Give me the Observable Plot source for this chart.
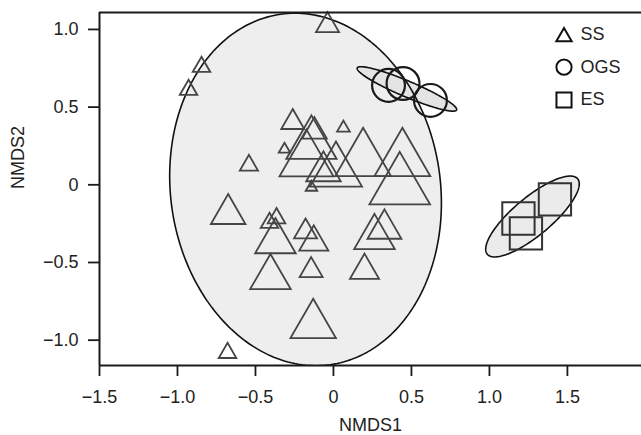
<!DOCTYPE html>
<html><head><meta charset="utf-8">
<script src="https://cdn.jsdelivr.net/npm/d3@7"></script>
<script src="https://cdn.jsdelivr.net/npm/@observablehq/plot@0.6"></script>
<style>
html,body{margin:0;padding:0;background:#fff;}
#chart{width:641px;height:435px;}
</style></head><body><div id="chart"></div>
<script>
// Groups and their legend symbols
const groups = ["SS", "OGS", "ES"];
const groupSymbols = ["triangle", "circle", "square"];

// SS sites (NMDS1, NMDS2, relative symbol size)
const ssX = [-0.038, -0.846, -0.929, -0.679, -0.542, -0.314, -0.261, -0.141, -0.122, -0.173, 0.064, 0.016, -0.064, -0.141, 0.190, 0.442, 0.425, -0.675, -0.365, -0.410, -0.372, -0.179, -0.126, -0.143, -0.404, -0.130, 0.263, 0.327, 0.199];
const ssY = [1.026, 0.759, 0.611, -1.082, 0.125, 0.228, 0.402, 0.260, 0.343, 0.155, 0.366, 0.085, 0.087, -0.017, 0.160, 0.160, -0.013, -0.188, -0.215, -0.245, -0.365, -0.302, -0.369, -0.551, -0.596, -0.902, -0.338, -0.284, -0.551];
const ssSize = [0.38, 0.29, 0.29, 0.29, 0.30, 0.19, 0.38, 0.83, 0.41, 0.89, 0.21, 0.86, 0.57, 0.19, 0.92, 0.92, 1.00, 0.57, 0.29, 0.29, 0.67, 0.38, 0.48, 0.38, 0.67, 0.75, 0.67, 0.56, 0.48];

// OGS sites
const ogsX = [0.353, 0.446, 0.622];
const ogsY = [0.640, 0.652, 0.543];
const ogsSize = [0.73, 0.73, 0.73];

// ES sites
const esX = [1.420, 1.186, 1.234];
const esY = [-0.094, -0.217, -0.313];
const esSize = [0.81, 0.81, 0.81];

// Group ellipses: centre, semi-axes, rotation (degrees)
const ellGroup = ["SS", "OGS", "ES"];
const ellCx = [-0.179, 0.471, 1.276];
const ellCy = [-0.030, 0.617, -0.204];
const ellA = [1.139, 0.346, 0.378];
const ellB = [0.865, 0.051, 0.122];
const ellAngle = [98, -23, 40];
const ellFill = ["#eeeeee", "#e4e4e4", "#ebebeb"];

// Axes
const xTicks = [-1.5, -1, -0.5, 0, 0.5, 1, 1.5];
const xTickLabels = ["\u22121.5", "\u22121.0", "\u22120.5", "0", "0.5", "1.0", "1.5"];
const yTicks = [-1, -0.5, 0, 0.5, 1];
const yTickLabels = ["\u22121.0", "\u22120.5", "0", "0.5", "1.0"];
const xDomain = [-1.5, 1.975];
const yDomain = [-1.163, 1.109];
const xLabel = "NMDS1";
const yLabel = "NMDS2";

const toRows = (xs, ys, ss) => xs.map((x, i) => ({x, y: ys[i], size: ss[i]}));
const ss = toRows(ssX, ssY, ssSize);
const ogs = toRows(ogsX, ogsY, ogsSize);
const es = toRows(esX, esY, esSize);

function ellipsePoints(i) {
  const pts = [];
  const phi = ellAngle[i] * Math.PI / 180;
  for (let k = 0; k <= 240; k++) {
    const t = 2 * Math.PI * k / 240;
    const u = ellA[i] * Math.cos(t), v = ellB[i] * Math.sin(t);
    pts.push({x: ellCx[i] + u * Math.cos(phi) - v * Math.sin(phi),
              y: ellCy[i] + u * Math.sin(phi) + v * Math.cos(phi)});
  }
  return pts;
}

const marks = [];
ellGroup.forEach((g, i) => marks.push(Plot.line(ellipsePoints(i), {x: "x", y: "y", fill: ellFill[i], stroke: "none", clip: true})));
ellGroup.forEach((g, i) => marks.push(Plot.line(ellipsePoints(i), {x: "x", y: "y", fill: "none", stroke: "#111", strokeWidth: 1.6, clip: true})));

marks.push(Plot.dot(ss, {x: "x", y: "y", r: "size", symbol: "triangle", stroke: "#454545", strokeWidth: 1.8, fill: "none"}));
marks.push(Plot.dot(ogs, {x: "x", y: "y", r: "size", symbol: "circle", stroke: "#1a1a1a", strokeWidth: 2.2, fill: "none"}));
marks.push(Plot.dot(es, {x: "x", y: "y", r: "size", symbol: "square", stroke: "#333", strokeWidth: 2, fill: "none"}));

// frame (left, top, bottom)
marks.push(Plot.ruleX([xDomain[0]], {stroke: "#1a1a1a", strokeWidth: 2}));
marks.push(Plot.ruleY(yDomain, {stroke: "#1a1a1a", strokeWidth: 2}));

marks.push(Plot.axisX({ticks: xTicks, tickFormat: d => xTickLabels[xTicks.indexOf(d)], tickSize: 11, tickPadding: 14, stroke: "#1a1a1a", strokeWidth: 1.8, label: null}));
marks.push(Plot.axisY({ticks: yTicks, tickFormat: d => yTickLabels[yTicks.indexOf(d)], tickSize: 11, tickPadding: 10, stroke: "#1a1a1a", strokeWidth: 1.8, label: null}));

// axis titles
marks.push(Plot.text([xLabel], {frameAnchor: "bottom", dy: 59.5, lineAnchor: "middle", text: d => d, fill: "#222"}));
marks.push(Plot.text([yLabel], {frameAnchor: "left", dx: -81, rotate: -90, lineAnchor: "middle", text: d => d, fill: "#222"}));

// legend
const legendR = [5.7, 7.6, 8.5];
const legendSymDy = [24.4, 54.7, 87.5];
const legendTextDy = [21.6, 54.7, 87.2];
groups.forEach((g, i) => {
  marks.push(Plot.dot([g], {frameAnchor: "top-right", dx: -77.5, dy: legendSymDy[i], symbol: groupSymbols[i], r: legendR[i], stroke: "#111", strokeWidth: 2, fill: "none"}));
  marks.push(Plot.text([g], {frameAnchor: "top-right", dx: -61, dy: legendTextDy[i], text: d => d, textAnchor: "start", lineAnchor: "middle", fill: "#222"}));
});

const chart = Plot.plot({
  width: 641,
  height: 435,
  marginLeft: 99,
  marginRight: 0,
  marginTop: 12,
  marginBottom: 70,
  x: {domain: xDomain, label: null},
  y: {domain: yDomain, label: null},
  r: {type: "linear", domain: [0, 1], range: [0, 22.5]},
  style: {fontFamily: "'Liberation Sans', Arial, sans-serif", fontSize: "18px", color: "#222", background: "#fff", overflow: "visible"},
  marks
});
document.getElementById("chart").appendChild(chart);
</script>
</body></html>
